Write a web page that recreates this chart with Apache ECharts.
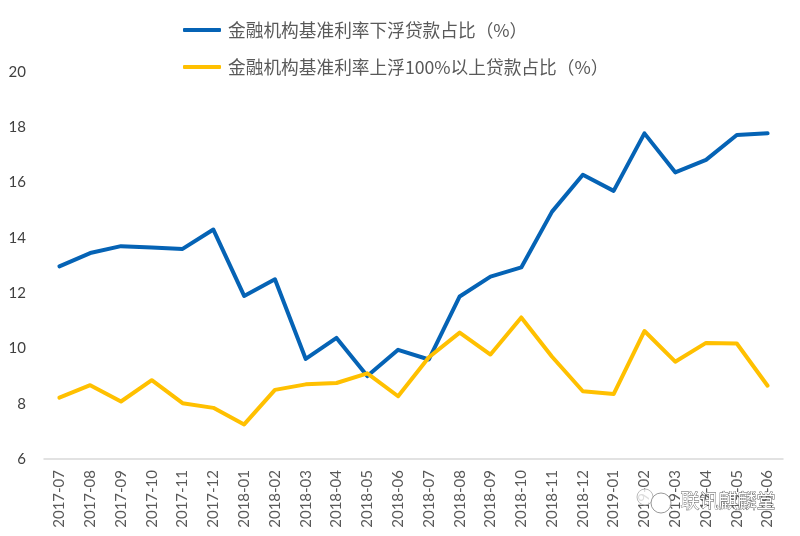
<!DOCTYPE html>
<html><head><meta charset="utf-8">
<style>html,body{margin:0;padding:0;background:#fff}#c{width:800px;height:536px}</style>
<script src="https://cdn.jsdelivr.net/npm/echarts@6/dist/echarts.min.js"></script></head>
<body><div id="c"></div>
<script>
const categories = ['2017-07','2017-08','2017-09','2017-10','2017-11','2017-12','2018-01','2018-02','2018-03','2018-04','2018-05','2018-06','2018-07','2018-08','2018-09','2018-10','2018-11','2018-12','2019-01','2019-02','2019-03','2019-04','2019-05','2019-06'];
const nameDown = '金融机构基准利率下浮贷款占比（%）';
const nameUp = '金融机构基准利率上浮100%以上贷款占比（%）';
const valuesDown = [12.97,13.45,13.7,13.65,13.6,14.3,11.9,12.5,9.62,10.38,9.0,9.95,9.6,11.88,12.6,12.93,14.95,16.28,15.7,17.78,16.37,16.82,17.72,17.78];
const valuesUp = [8.22,8.67,8.08,8.85,8.02,7.85,7.25,8.5,8.7,8.75,9.1,8.27,9.68,10.57,9.78,11.12,9.7,8.45,8.35,10.63,9.52,10.2,10.18,8.65];
const watermark = '联讯麒麟堂';
const font = 'Lato, "Noto Sans CJK SC", sans-serif';
const chart = echarts.init(document.getElementById('c'), null, {renderer:'canvas'});
chart.setOption({
  animation:false,
  backgroundColor:'#fff',
  textStyle:{fontFamily:font},
  legend:{
    orient:'vertical', left:178, top:15, itemWidth:38, itemHeight:4, itemGap:17,
    icon:'roundRect',
    textStyle:{fontSize:17.7,color:'#595959',fontFamily:'"Noto Sans CJK SC", sans-serif',padding:[0,0,0,2],lineHeight:20},
    data:[nameDown,nameUp]
  },
  grid:{left:44,right:17,top:72,bottom:77},
  xAxis:{type:'category',data:categories,boundaryGap:true,
    axisLine:{lineStyle:{color:'#d9d9d9',width:1.5}},axisTick:{show:false},
    axisLabel:{rotate:90,interval:0,fontSize:15,color:'#595959',margin:11}},
  yAxis:{type:'value',min:6,max:20,interval:2,
    axisLine:{show:false},axisTick:{show:false},splitLine:{show:false},
    axisLabel:{fontSize:15,color:'#404040',margin:18}},
  series:[
    {name:nameDown,type:'line',data:valuesDown,symbol:'none',lineStyle:{color:'#0563b5',width:4,cap:'round',join:'round'},itemStyle:{color:'#0563b5'}},
    {name:nameUp,type:'line',data:valuesUp,symbol:'none',lineStyle:{color:'#ffc000',width:4,cap:'round',join:'round'},itemStyle:{color:'#ffc000'}}
  ],
  graphic:[
    {type:'circle',shape:{cx:645,cy:497,r:8},z:99,style:{fill:'rgba(255,255,255,0.8)',stroke:'#bbb',lineWidth:1}},
    {type:'circle',shape:{cx:661,cy:503,r:10},z:99,style:{fill:'rgba(255,255,255,0.85)',stroke:'#999',lineWidth:1}},
    {type:'text',left:680,top:491,z:100,style:{text:watermark,fontSize:19,fontFamily:'"Noto Sans CJK SC", sans-serif',fill:'#fff',stroke:'#555',lineWidth:0.8}}
  ]
});
</script></body></html>
